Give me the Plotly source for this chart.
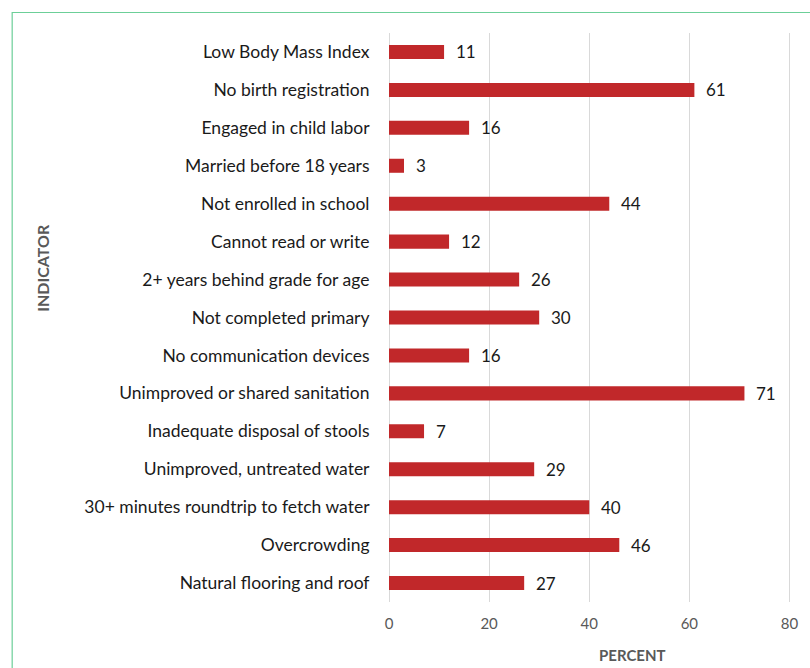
import plotly.graph_objects as go

indicators = [
    "Low Body Mass Index",
    "No birth registration",
    "Engaged in child labor",
    "Married before 18 years",
    "Not enrolled in school",
    "Cannot read or write",
    "2+ years behind grade for age",
    "Not completed primary",
    "No communication devices",
    "Unimproved or shared sanitation",
    "Inadequate disposal of stools",
    "Unimproved, untreated water",
    "30+ minutes roundtrip to fetch water",
    "Overcrowding",
    "Natural flooring and roof",
]
percent = [11, 61, 16, 3, 44, 12, 26, 30, 16, 71, 7, 29, 40, 46, 27]
x_ticks = [0, 20, 40, 60, 80]

W, H = 810, 668
ML, MR, MT, MB = 389, 13, 33, 66
PW, PH = W - ML - MR, H - MT - MB

BAR = "#C1282A"
GRID = "#D9D9D9"
GREY = "#595959"
TEXT = "#1A1A1A"
FONT = "Lato, 'Open Sans', sans-serif"

fig = go.Figure(
    go.Bar(
        x=percent,
        y=indicators,
        orientation="h",
        marker=dict(color=BAR, line=dict(width=0)),
        width=0.37,
        hoverinfo="x+y",
    )
)

# value labels to the right of each bar
for name, val in zip(indicators, percent):
    fig.add_annotation(
        x=val, y=name, text=str(val), showarrow=False,
        xanchor="left", yanchor="middle", xshift=10,
        font=dict(family=FONT, size=17, color=TEXT),
    )

def px_to_paper_x(px):
    return (px - ML) / PW

def px_to_paper_y(py):
    return 1 - (py - MT) / PH

# axis titles
fig.add_annotation(
    x=px_to_paper_x(635.5), y=px_to_paper_y(655), xref="paper", yref="paper",
    xanchor="center", yanchor="middle",
    text="<b>PERCENT</b>", showarrow=False,
    font=dict(family=FONT, size=15, color=GREY),
)
fig.add_annotation(
    x=px_to_paper_x(38), y=px_to_paper_y(267.5), xref="paper", yref="paper",
    xanchor="center", yanchor="middle",
    text="<b>INDICATOR</b>", showarrow=False, textangle=-90,
    font=dict(family=FONT, size=16, color=GREY),
)

# outer chart frame (green), extending past the right and bottom edges
fig.add_shape(
    type="rect", xref="paper", yref="paper",
    x0=px_to_paper_x(7.5), x1=px_to_paper_x(W + 20),
    y0=px_to_paper_y(H + 20), y1=px_to_paper_y(12.5),
    line=dict(color="#6CCF98", width=1.2), fillcolor="rgba(0,0,0,0)",
    layer="below",
)

fig.update_layout(
    width=W, height=H,
    margin=dict(l=ML, r=MR, t=MT, b=MB),
    paper_bgcolor="white", plot_bgcolor="white",
    showlegend=False,
    font=dict(family=FONT),
    xaxis=dict(
        # a little headroom past 80 so its grid line is kept
        range=[0, 80.5], tickvals=x_ticks, ticktext=[str(v) for v in x_ticks],
        showgrid=True, gridcolor=GRID, gridwidth=1,
        zeroline=True, zerolinecolor=GRID, zerolinewidth=1,
        showline=False,
        ticks="outside", ticklen=8, tickcolor="rgba(0,0,0,0)",
        tickfont=dict(family=FONT, size=15, color=GREY),
        fixedrange=True,
    ),
    yaxis=dict(
        autorange="reversed",
        showgrid=False, zeroline=False, showline=False,
        ticks="outside", ticklen=15, tickcolor="rgba(0,0,0,0)",
        tickfont=dict(family=FONT, size=17.5, color=TEXT),
        fixedrange=True,
    ),
)

fig.write_html("out.html")
